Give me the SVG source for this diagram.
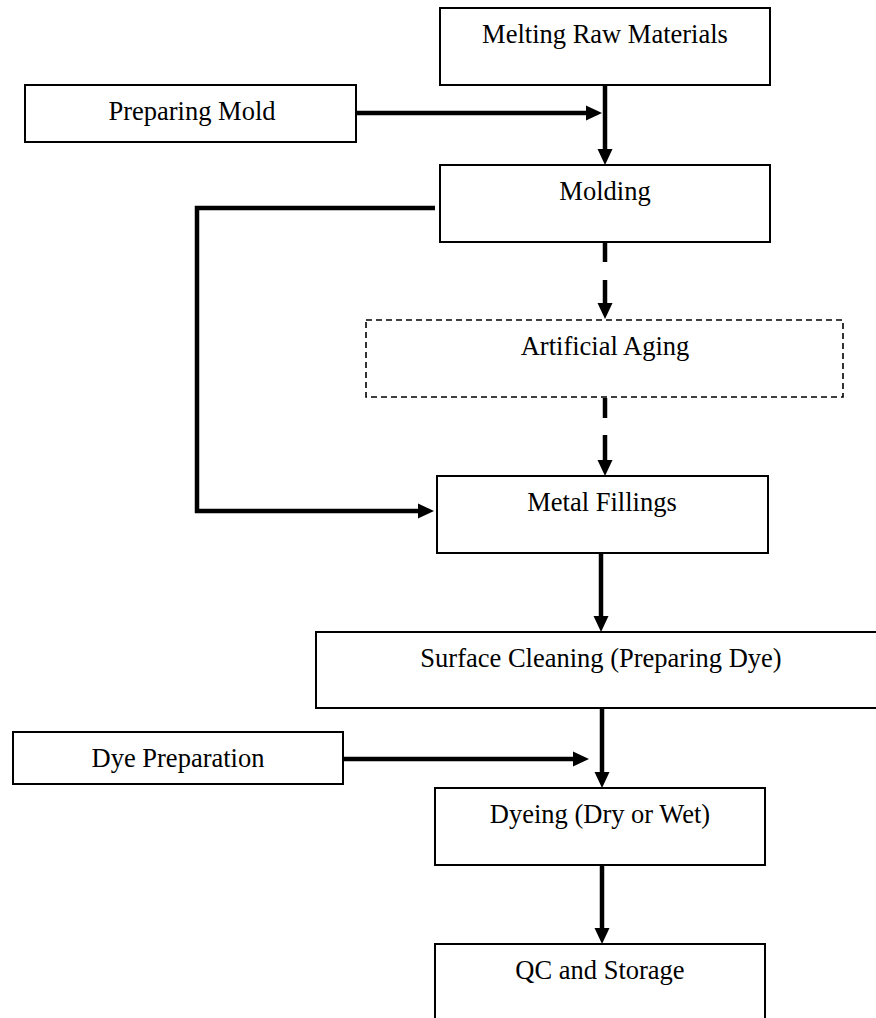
<svg xmlns="http://www.w3.org/2000/svg" width="876" height="1018" viewBox="0 0 876 1018">
<style>
.box{fill:#fff;stroke:#000;stroke-width:2}
.dbox{fill:#fff;stroke:#000;stroke-width:1.6;stroke-dasharray:6 4}
.lbl{font-family:"Liberation Serif","Times New Roman",serif;font-size:26.5px;fill:#000;text-anchor:middle}
.con{fill:none;stroke:#000;stroke-width:4.5}
</style>
<defs>
<marker id="ah" markerUnits="userSpaceOnUse" markerWidth="16" markerHeight="16" viewBox="0 0 16 16" refX="6" refY="8" orient="auto">
<path d="M0,0.5 L16,8 L0,15.5 z" fill="#000"/>
</marker>
</defs>
<rect width="876" height="1018" fill="#fff"/>
<g id="n-melting"><rect class="box" x="440" y="8" width="330" height="77"/><text class="lbl" x="605" y="43">Melting Raw Materials</text></g>
<g id="n-prepmold"><rect class="box" x="25" y="85" width="331" height="57"/><text class="lbl" x="192" y="120">Preparing Mold</text></g>
<g id="n-molding"><rect class="box" x="440" y="165" width="330" height="77"/><text class="lbl" x="605" y="200">Molding</text></g>
<g id="n-aging"><rect class="dbox" x="366" y="320" width="477" height="77"/><text class="lbl" x="605" y="355">Artificial Aging</text></g>
<g id="n-metal"><rect class="box" x="437" y="476" width="331" height="77"/><text class="lbl" x="602" y="511">Metal Fillings</text></g>
<g id="n-surface"><rect class="box" x="316" y="632" width="572" height="76"/><text class="lbl" x="601" y="667">Surface Cleaning (Preparing Dye)</text></g>
<g id="n-dyeprep"><rect class="box" x="13" y="732" width="330" height="52"/><text class="lbl" x="178" y="767">Dye Preparation</text></g>
<g id="n-dyeing"><rect class="box" x="435" y="788" width="330" height="77"/><text class="lbl" x="600" y="823">Dyeing (Dry or Wet)</text></g>
<g id="n-qc"><rect class="box" x="435" y="944" width="330" height="90"/><text class="lbl" x="600" y="979">QC and Storage</text></g>
<g id="connectors">
<path class="con" d="M605,85 V155" marker-end="url(#ah)"/>
<path class="con" d="M356,113 H592" marker-end="url(#ah)"/>
<path class="con" d="M605,243 V309" stroke-dasharray="19 18 40" marker-end="url(#ah)"/>
<path class="con" d="M605,398 V466" stroke-dasharray="20 17 40" marker-end="url(#ah)"/>
<path class="con" d="M435,208 H197 V511 H424" stroke-linejoin="miter" marker-end="url(#ah)"/>
<path class="con" d="M601,553 V622" marker-end="url(#ah)"/>
<path class="con" d="M602,708 V778" marker-end="url(#ah)"/>
<path class="con" d="M343,759 H579" marker-end="url(#ah)"/>
<path class="con" d="M602,865 V934" marker-end="url(#ah)"/>
</g>
</svg>
